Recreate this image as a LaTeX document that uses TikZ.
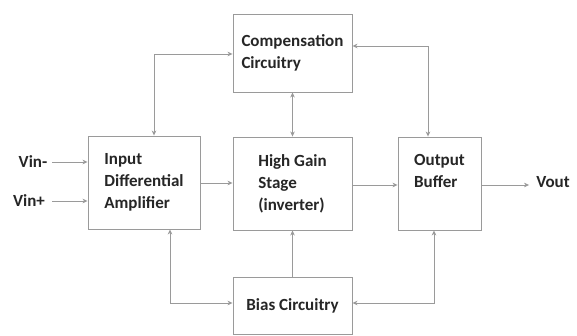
\documentclass[tikz,border=0pt]{standalone}
\usepackage{fontspec}
\setmainfont{Carlito}
\usetikzlibrary{arrows.meta,calc}
\definecolor{linec}{HTML}{9A9A9A}
\definecolor{txtc}{HTML}{262626}
\begin{document}
\begin{tikzpicture}[x=1pt,y=-1pt,
  blk/.style={draw=linec,line width=0.9pt,align=left,inner sep=0pt,
    font=\bfseries\fontsize{17}{22}\selectfont,text=txtc},
  lbl/.style={inner sep=2pt,font=\bfseries\fontsize{17}{22}\selectfont,text=txtc},
  conn/.style={draw=linec,line width=0.9pt},
  tip/.tip={Stealth[length=5pt,width=4.5pt,inset=1.5pt]},
]
\useasboundingbox (0,0) rectangle (577,336);
\fill[white] (0,0) rectangle (577,336);
% blocks
\node[blk,minimum width=112pt,minimum height=93pt] (inp) at (144,182.5) {Input\\Differential\\Amplifier};
\node[blk,minimum width=119pt,minimum height=78pt] (comp) at (292.5,53) {Compensation\\Circuitry};
\node[blk,minimum width=119pt,minimum height=93pt] (hg) at (292.5,183.5) {High Gain\\Stage\\(inverter)};
\node[blk,minimum width=83pt,minimum height=93pt] (out) at (439.5,183.5) {Output\\Buffer\\[4pt]};
\node[blk,minimum width=119pt,minimum height=57pt] (bias) at (292.5,305.5) {Bias Circuitry};
% terminals
\node[lbl] (vm) at (33,162) {Vin-};
\node[lbl] (vp) at (29,201) {Vin+};
\node[lbl] (vout) at (553,182) {Vout};
% connectors
\draw[conn,-tip] ([xshift=3pt]vm.east) -- (vm.east -| inp.west);
\draw[conn,-tip] ([xshift=5pt]vp.east) -- (vp.east -| inp.west);
\draw[conn,-tip] ([yshift=-0.5pt]inp.east) -- ([yshift=-0.5pt]inp.east -| hg.west);
\draw[conn,-tip] ([yshift=-1.5pt]hg.east) -- ([yshift=-1.5pt]out.west);
\draw[conn,-tip] ([yshift=-1.5pt]out.east) -- ($([yshift=-1.5pt]out.east -| vout.west)+(-5,0)$);
\draw[conn,tip-tip] ([xshift=10pt]inp.north) |- ([yshift=-1pt]comp.west);
\draw[conn,tip-tip] (comp.south) -- (hg.north);
\draw[conn,tip-tip] ([yshift=7pt]comp.east) -| ([xshift=-11.5pt]out.north);
\draw[conn,-tip] (bias.north) -- (hg.south);
\draw[conn,tip-tip] ([xshift=26pt]inp.south) |- ([yshift=2.5pt]bias.west);
\draw[conn,tip-tip] ([xshift=-5.5pt]out.south) |- ([yshift=2.5pt]bias.east);
\end{tikzpicture}
\end{document}
